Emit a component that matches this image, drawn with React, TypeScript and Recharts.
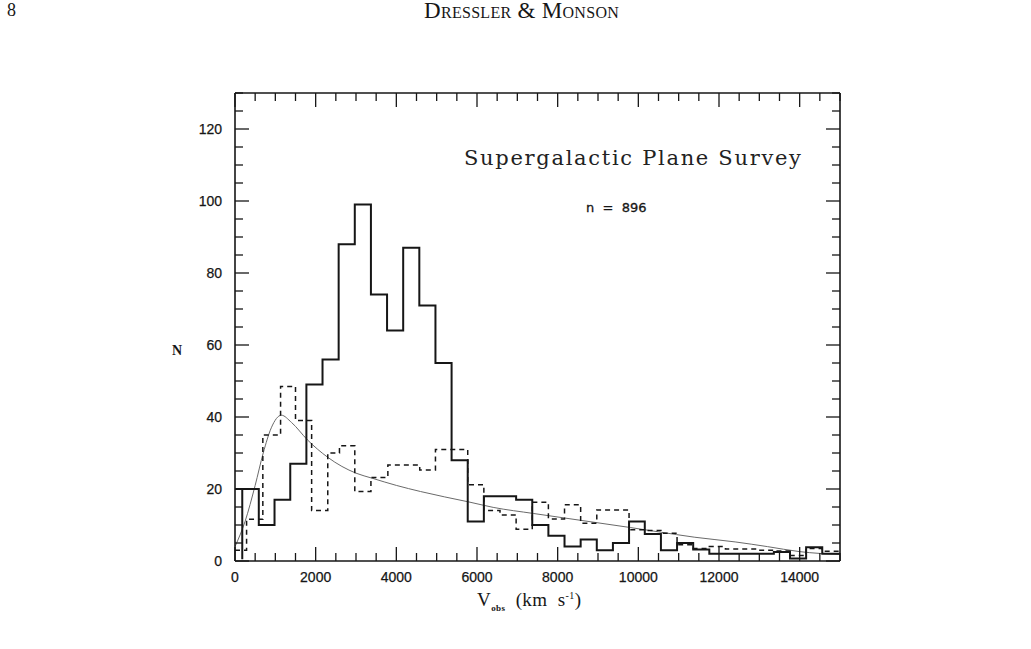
import React from 'react';
import { LineChart, Line, XAxis, YAxis } from 'recharts';

// solid histogram: bin start velocities and counts (last entry closes the final bin)
const SOLID_V = [0, 180, 180, 590, 980, 1370, 1770, 2170, 2570, 2970, 3370, 3770, 4170, 4570, 4970, 5370, 5770, 6170, 6570, 6970, 7370, 7770, 8170, 8570, 8970, 9370, 9770, 10160, 10560, 10960, 11360, 11760, 12160, 12560, 12960, 13360, 13760, 14160, 14560, 15000];
const SOLID_N = [20, 0.5, 20, 10, 17, 27, 49, 56, 88, 99, 74, 64, 87, 71, 55, 28, 11, 18, 18, 17, 10, 7, 4, 6, 3, 5, 11, 7.5, 3, 5, 3.2, 2, 2, 2, 2, 2.5, 0.7, 3.8, 2, 2];

// dashed histogram
const DASHED_V = [0, 287, 690, 1130, 1500, 1900, 2300, 2590, 2970, 3370, 3790, 4580, 4970, 5770, 6170, 6570, 6970, 7370, 7770, 8170, 8570, 8970, 9770, 10160, 10560, 10960, 11360, 11760, 12160, 12960, 13360, 13760, 14160, 14560, 15000];
const DASHED_N = [3, 11.6, 35, 48.5, 39, 14, 30, 32, 19.3, 23.2, 26.7, 25.3, 31, 21.2, 14, 12.8, 8.8, 16.3, 11.7, 15.6, 10.5, 14.2, 8.7, 8.5, 7.7, 4.5, 3.5, 4, 3.3, 3, 2.8, 1.5, 3.5, 2.7, 2.7];

// smooth model curve
const MODEL_V = [0, 250, 500, 700, 900, 1150, 1400, 1800, 2300, 3000, 3400, 4000, 4600, 5200, 5800, 6400, 7400, 8200, 9000, 9800, 10500, 11400, 12400, 13200, 14000, 15000];
const MODEL_N = [4, 11, 21, 30, 37, 40.5, 38.5, 33.6, 28.8, 24.4, 23, 21, 19.3, 17.8, 16.4, 14.9, 13.2, 11.9, 10.6, 9.3, 8.1, 6.6, 5.3, 4, 2.6, 1.8];

const X_MAJOR = [0, 2000, 4000, 6000, 8000, 10000, 12000, 14000];
const Y_MAJOR = [0, 20, 40, 60, 80, 100, 120];
const X_TICKS = Array.from({ length: 31 }, (_, i) => i * 500);
const Y_TICKS = Array.from({ length: 27 }, (_, i) => i * 5);

const solidData = SOLID_V.map((v, i) => ({ v, n: SOLID_N[i] }));
const dashedData = DASHED_V.map((v, i) => ({ v, n: DASHED_N[i] }));
const modelData = MODEL_V.map((v, i) => ({ v, n: MODEL_N[i] }));

const INK = '#161616';
const tickFont = {
  fontFamily: '"Liberation Sans", Arial, sans-serif',
  fontSize: 14,
  fill: INK,
  stroke: INK,
  strokeWidth: 0.25,
};

const BottomTick = (props: any) => {
  const { x, y, payload } = props;
  const major = X_MAJOR.includes(payload.value);
  return (
    <g>
      <line x1={x} y1={y} x2={x} y2={y - (major ? 14 : 8)} stroke={INK} strokeWidth={1.3} />
      {major && (
        <text x={x} y={y + 21} textAnchor="middle" {...tickFont}>
          {payload.value}
        </text>
      )}
    </g>
  );
};

const TopTick = (props: any) => {
  const { x, y, payload } = props;
  const major = X_MAJOR.includes(payload.value);
  return <line x1={x} y1={y} x2={x} y2={y + (major ? 14 : 8)} stroke={INK} strokeWidth={1.3} />;
};

const LeftTick = (props: any) => {
  const { x, y, payload } = props;
  const major = Y_MAJOR.includes(payload.value);
  return (
    <g>
      <line x1={x} y1={y} x2={x + (major ? 14 : 8)} y2={y} stroke={INK} strokeWidth={1.3} />
      {major && (
        <text x={x - 13} y={y + 5} textAnchor="end" {...tickFont}>
          {payload.value}
        </text>
      )}
    </g>
  );
};

const RightTick = (props: any) => {
  const { x, y, payload } = props;
  const major = Y_MAJOR.includes(payload.value);
  return <line x1={x} y1={y} x2={x - (major ? 14 : 8)} y2={y} stroke={INK} strokeWidth={1.3} />;
};

const axisLine = { stroke: INK, strokeWidth: 1.6 };

export default function App() {
  return (
    <div style={{ position: 'absolute', left: 0, top: 0, width: 1031, height: 649, background: '#fff' }}>
      <div style={{ position: 'absolute', left: 7, top: 0, fontFamily: '"Liberation Serif", serif', fontSize: 18, color: INK }}>8</div>
      <div
        style={{
          position: 'absolute',
          left: 424,
          top: -2,
          fontFamily: '"Liberation Serif", serif',
          fontSize: 23,
          letterSpacing: 0.3,
          fontVariant: 'small-caps',
          color: INK,
          whiteSpace: 'pre',
        }}
      >
        Dressler &amp; Monson
      </div>

      <LineChart
        width={1031}
        height={649}
        margin={{ top: 92, right: 190, bottom: 58, left: 175 }}
      >
        <XAxis
          dataKey="v"
          type="number"
          domain={[0, 15000]}
          ticks={X_TICKS}
          interval={0}
          height={30}
          tickSize={0}
          tickMargin={0}
          axisLine={axisLine}
          tick={(p: any) => <BottomTick {...p} />}
          allowDataOverflow
        />
        <XAxis
          xAxisId="top"
          orientation="top"
          dataKey="v"
          type="number"
          domain={[0, 15000]}
          ticks={X_TICKS}
          interval={0}
          height={1}
          tickSize={0}
          tickMargin={0}
          axisLine={axisLine}
          tick={(p: any) => <TopTick {...p} />}
          allowDataOverflow
        />
        <YAxis
          type="number"
          domain={[0, 130]}
          ticks={Y_TICKS}
          interval={0}
          width={60}
          tickSize={0}
          tickMargin={0}
          axisLine={axisLine}
          tick={(p: any) => <LeftTick {...p} />}
          allowDataOverflow
        />
        <YAxis
          yAxisId="right"
          orientation="right"
          type="number"
          domain={[0, 130]}
          ticks={Y_TICKS}
          interval={0}
          width={1}
          tickSize={0}
          tickMargin={0}
          axisLine={axisLine}
          tick={(p: any) => <RightTick {...p} />}
          allowDataOverflow
        />
        <Line
          data={modelData}
          dataKey="n"
          type="monotone"
          stroke="#6a6a6a"
          strokeWidth={1}
          dot={false}
          isAnimationActive={false}
        />
        <Line
          data={dashedData}
          dataKey="n"
          type="stepAfter"
          stroke={INK}
          strokeWidth={1.5}
          strokeDasharray="5 4"
          dot={false}
          isAnimationActive={false}
        />
        <Line
          data={solidData}
          dataKey="n"
          type="stepAfter"
          stroke={INK}
          strokeWidth={2}
          dot={false}
          isAnimationActive={false}
        />
      </LineChart>

      <div
        style={{
          position: 'absolute',
          left: 464,
          top: 146,
          fontFamily: '"DejaVu Serif", serif',
          fontSize: 21,
          letterSpacing: 1.7,
          color: '#222',
          whiteSpace: 'pre',
        }}
      >
        Supergalactic Plane Survey
      </div>
      <div
        style={{
          position: 'absolute',
          left: 586,
          top: 200,
          fontFamily: '"DejaVu Sans", sans-serif',
          fontSize: 13,
          color: INK,
          whiteSpace: 'pre',
          WebkitTextStroke: '0.3px #161616',
        }}
      >
        n  =  896
      </div>
      <div
        style={{
          position: 'absolute',
          left: 172,
          top: 343,
          fontFamily: '"Liberation Serif", serif',
          fontWeight: 'bold',
          fontSize: 14,
          color: INK,
        }}
      >
        N
      </div>
      <div
        style={{
          position: 'absolute',
          left: 477,
          top: 589,
          fontFamily: '"Liberation Serif", serif',
          fontSize: 19,
          letterSpacing: 0.4,
          color: INK,
          whiteSpace: 'pre',
        }}
      >
        V<sub style={{ fontSize: 9, fontWeight: 'bold' }}>obs</sub>  (km  s<sup style={{ fontSize: 10 }}>-1</sup>)
      </div>
    </div>
  );
}
